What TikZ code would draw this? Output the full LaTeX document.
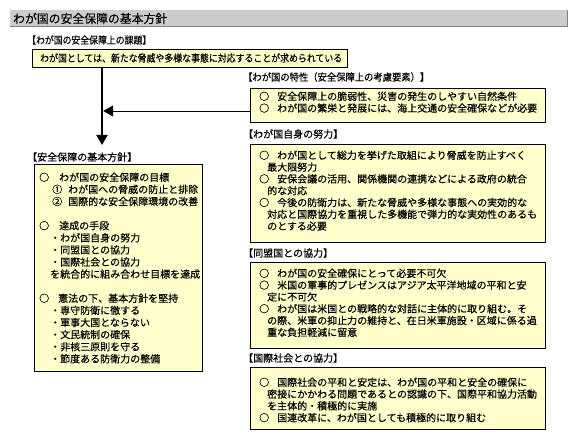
\documentclass[tikz,border=0pt]{standalone}
\usepackage{fontspec}
\usepackage{graphicx}
\newfontfamily\jp[FakeBold=0.35]{Noto Sans CJK JP}
\usetikzlibrary{arrows.meta,calc}
\definecolor{boxyellow}{HTML}{FFFFCC}
\definecolor{bargray}{HTML}{CCCCCC}
\definecolor{bardark}{HTML}{808080}
\newcommand{\wfit}[2]{\resizebox{#1pt}{\height}{#2}}
\begin{document}
\begin{tikzpicture}[x=1pt,y=-1pt,
  box/.style={draw=black, line width=0.9pt, fill=boxyellow, anchor=north west, inner sep=0pt, outer sep=0pt},
  body/.style={anchor=north west, inner sep=0pt, align=left, font=\jp\fontsize{10}{11.8}\selectfont},
  lab/.style={anchor=west, inner sep=0pt, font=\jp\fontsize{10}{12}\selectfont},
  bigarrow/.style={line width=2.4pt, -{Triangle[length=10pt,width=11pt]}},
  smallarrow/.style={line width=0.9pt, -{Triangle[length=10pt,width=11pt]}},
]
\useasboundingbox (0,0) rectangle (579,441);
\fill[white] (0,0) rectangle (579,441);

% title bar
\node[fill=bargray, anchor=north west, minimum width=557pt, minimum height=17pt, inner sep=0pt, outer sep=0pt] (tb) at (10,10) {};
\draw[bardark, line width=1pt] (tb.south west) -- (tb.south east) -- (tb.north east);
\node[anchor=west, inner sep=0pt, font=\jp\fontsize{12}{14}\selectfont] (tt) at (13,18.5) {\wfit{154}{わが国の安全保障の基本方針}};

% top issue
\node[lab] (l0) at (27,40) {\wfit{124}{【わが国の安全保障上の課題】}};
\node[box, minimum width=315pt, minimum height=18pt] (b0) at (32,49) {};
\node[anchor=west, inner sep=0pt, font=\jp\fontsize{10}{12}\selectfont] (t0) at (40,58) {\wfit{302}{わが国としては、新たな脅威や多様な事態に対応することが求められている}};

% right column
\node[lab] (l1) at (243,77) {\wfit{186}{【わが国の特性（安全保障上の考慮要素）】}};
\node[box, minimum width=295pt, minimum height=34pt] (b1) at (250,88) {};
\node[body] (t1) at (259,91.4) {%
○\hspace{8pt}安全保障上の脆弱性、災害の発生のしやすい自然条件\\
○\hspace{8pt}わが国の繁栄と発展には、海上交通の安全確保などが必要};

\node[lab] (l2) at (243,134) {【わが国自身の努力】};
\node[box, minimum width=295pt, minimum height=98pt] (b2) at (250,144) {};
\node[body] (t2) at (259,150.4) {%
○\hspace{8pt}わが国として総力を挙げた取組により脅威を防止すべく\\
\hspace*{8pt}最大限努力\\
○\hspace{8pt}安保会議の活用、関係機関の連携などによる政府の統合\\
\hspace*{8pt}的な対応\\
○\hspace{8pt}今後の防衛力は、新たな脅威や多様な事態への実効的な\\
\hspace*{8pt}対応と国際協力を重視した多機能で弾力的な実効性のあるも\\
\hspace*{8pt}のとする必要};

\node[lab] (l3) at (243,253) {【同盟国との協力】};
\node[box, minimum width=295pt, minimum height=86pt] (b3) at (250,262) {};
\node[body] (t3) at (259,268.4) {%
○\hspace{8pt}わが国の安全確保にとって必要不可欠\\
○\hspace{8pt}米国の軍事的プレゼンスはアジア太平洋地域の平和と安\\
\hspace*{8pt}定に不可欠\\
○\hspace{8pt}わが国は米国との戦略的な対話に主体的に取り組む。そ\\
\hspace*{8pt}の際、米軍の抑止力の維持と、在日米軍施設・区域に係る過\\
\hspace*{8pt}重な負担軽減に留意};

\node[lab] (l4) at (243,358) {【国際社会との協力】};
\node[box, minimum width=295pt, minimum height=62pt] (b4) at (250,367) {};
\node[body] (t4) at (259,377.4) {%
○\hspace{8pt}国際社会の平和と安定は、わが国の平和と安全の確保に\\
\hspace*{8pt}密接にかかわる問題であるとの認識の下、国際平和協力活動\\
\hspace*{8pt}を主体的・積極的に実施\\
○\hspace{8pt}国連改革に、わが国としても積極的に取り組む};

% left column
\node[lab] (l5) at (27,157) {【安全保障の基本方針】};
\node[box, minimum width=168pt, minimum height=207pt] (b5) at (34,164) {};
\node[body, font=\jp\fontsize{10}{12.1}\selectfont] (t5) at (39,172.4) {%
○\hspace{10pt}わが国の安全保障の目標\\
\hspace*{13pt}①\hspace{6pt}わが国への脅威の防止と排除\\
\hspace*{13pt}②\hspace{6pt}国際的な安全保障環境の改善\\[12.1pt]
○\hspace{10pt}達成の手段\\
\hspace*{11pt}・わが国自身の努力\\
\hspace*{11pt}・同盟国との協力\\
\hspace*{11pt}・国際社会との協力\\
\hspace*{11pt}を統合的に組み合わせ目標を達成\\[12.1pt]
○\hspace{9pt}憲法の下、基本方針を堅持\\
\hspace*{11pt}・専守防衛に徹する\\
\hspace*{11pt}・軍事大国とならない\\
\hspace*{11pt}・文民統制の確保\\
\hspace*{11pt}・非核三原則を守る\\
\hspace*{11pt}・節度ある防衛力の整備};

% connectors
\coordinate (vend) at (102,145);
\coordinate (hy) at (0,111);
\coordinate (hend) at (103.2,111);
\draw[bigarrow] (b0.south -| vend) -- (vend);
\draw[smallarrow] (b1.west |- hy) -- (hend);
\end{tikzpicture}
\end{document}
